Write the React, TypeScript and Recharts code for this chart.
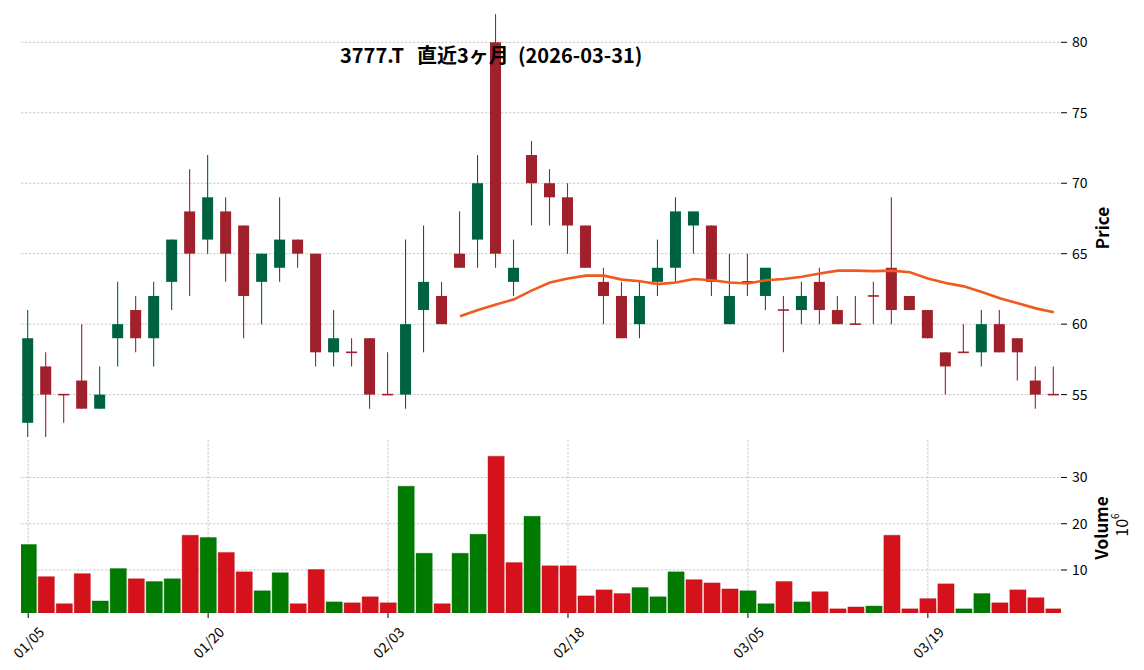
import React from 'react';
import { ComposedChart, Bar, Line, XAxis, YAxis, CartesianGrid, Cell } from 'recharts';

// ---- data ----
const dates = [
  '01/05', '01/06', '01/07', '01/08', '01/09', '01/13', '01/14', '01/15', '01/16', '01/19',
  '01/20', '01/21', '01/22', '01/23', '01/26', '01/27', '01/28', '01/29', '01/30', '02/02',
  '02/03', '02/04', '02/05', '02/06', '02/09', '02/10', '02/12', '02/13', '02/16', '02/17',
  '02/18', '02/19', '02/20', '02/24', '02/25', '02/26', '02/27', '03/02', '03/03', '03/04',
  '03/05', '03/06', '03/09', '03/10', '03/11', '03/12', '03/13', '03/16', '03/17', '03/18',
  '03/19', '03/23', '03/24', '03/25', '03/26', '03/27', '03/30', '03/31',
];
const opens = [
  53, 57, 55, 56, 54, 59, 61, 59, 63, 68, 66, 68, 67, 63, 64, 66, 65, 58, 58, 59,
  55, 55, 61, 62, 65, 66, 80, 63, 72, 70, 69, 67, 63, 62, 60, 63, 64, 67, 67, 60,
  63, 62, 61, 61, 63, 61, 60, 62, 64, 62, 61, 58, 58, 58, 60, 59, 56, 55,
];
const highs = [
  61, 58, 55, 60, 57, 63, 62, 63, 66, 71, 72, 69, 67, 65, 69, 66, 65, 61, 59, 59,
  58, 66, 67, 63, 68, 72, 82, 66, 73, 71, 70, 67, 64, 63, 63, 66, 69, 68, 67, 65,
  65, 64, 62, 63, 64, 62, 62, 63, 69, 62, 61, 58, 60, 61, 61, 59, 57, 57,
];
const lows = [
  52, 52, 53, 54, 54, 57, 58, 57, 61, 62, 65, 63, 59, 60, 63, 64, 57, 57, 57, 54,
  55, 54, 58, 60, 64, 64, 64, 62, 67, 67, 65, 64, 60, 59, 59, 62, 63, 65, 62, 60,
  62, 61, 58, 60, 60, 60, 60, 60, 60, 61, 59, 55, 58, 57, 58, 56, 54, 55,
];
const closes = [
  59, 55, 55, 54, 55, 60, 59, 62, 66, 65, 69, 65, 62, 65, 66, 65, 58, 59, 58, 55,
  55, 60, 63, 60, 64, 70, 65, 64, 70, 69, 67, 64, 62, 59, 62, 64, 68, 68, 63, 62,
  63, 64, 61, 62, 61, 60, 60, 62, 61, 61, 59, 57, 58, 60, 58, 58, 55, 55,
];
// volume in millions of shares
const volumes = [
  15.5, 8.55, 2.7, 9.2, 3.3, 10.3, 8.1, 7.5, 8.1, 17.5,
  17.0, 13.8, 9.6, 5.5, 9.4, 2.7, 10.1, 3.1, 2.9, 4.2,
  2.9, 28.1, 13.6, 2.7, 13.6, 17.7, 34.6, 11.6, 21.6, 10.9,
  10.9, 4.4, 5.7, 4.9, 6.2, 4.2, 9.6, 7.9, 7.2, 5.9,
  5.5, 2.7, 7.5, 3.1, 5.3, 1.6, 2.0, 2.2, 17.5, 1.6,
  3.8, 7.0, 1.6, 4.9, 2.9, 5.7, 4.0, 1.6,
];
// 25-day moving average line as drawn
const ma25: (number | null)[] = [
  null, null, null, null, null, null, null, null, null, null,
  null, null, null, null, null, null, null, null, null, null,
  null, null, null, null, 60.56, 61.0, 61.4, 61.76, 62.4, 62.96,
  63.24, 63.44, 63.44, 63.16, 63.04, 62.84, 62.96, 63.2, 63.12, 62.96,
  62.88, 63.12, 63.2, 63.36, 63.6, 63.8, 63.8, 63.76, 63.8, 63.68,
  63.24, 62.92, 62.68, 62.28, 61.84, 61.48, 61.12, 60.84,
];
const xTickIdx = [0, 10, 20, 30, 40, 50];
const priceTicks = [55, 60, 65, 70, 75, 80];
const volumeTicks = [10, 20, 30];
const titleParts = ['3777.T', '直近3ヶ月', '(2026-03-31)'];

// ---- styles ----
const FONT = '"Noto Sans CJK JP", "Noto Sans", sans-serif';
const UP = '#006340';
const DOWN = '#a0202c';
const VUP = '#007a00';
const VDOWN = '#d5121b';
const MA_COLOR = '#f05a1e';
const GRID = '#bdbdbd';

const rows = dates.map((d, i) => ({
  i,
  date: d,
  o: opens[i],
  h: highs[i],
  l: lows[i],
  c: closes[i],
  range: [lows[i], highs[i]],
  ma: ma25[i],
  v: volumes[i],
  vUp: i === 0 ? closes[i] > opens[i] : closes[i] > closes[i - 1],
}));

const Candle = (props: any) => {
  const { x, y, width, height, payload } = props;
  if (x == null || y == null || !payload) return null;
  const top = Math.min(y, y + height);
  const hgt = Math.abs(height);
  const { o, c, h, l } = payload;
  const color = c > o ? UP : DOWN;
  const ppu = h - l > 0 ? hgt / (h - l) : 0;
  const yOf = (p: number) => top + (h - p) * ppu;
  const cx = x + width / 2;
  const bTop = yOf(Math.max(o, c));
  const bBot = yOf(Math.min(o, c));
  const doji = bBot - bTop < 1.6;
  const bh = doji ? 1.6 : bBot - bTop;
  return (
    <g>
      <line x1={cx} x2={cx} y1={top} y2={top + hgt} stroke={color} strokeWidth={1.1} />
      <rect x={x} y={doji ? bTop - 0.8 : bTop} width={width} height={bh} fill={color} />
    </g>
  );
};

const XTick = (props: any) => {
  const { x, y, payload } = props;
  const cy = y + 22;
  return (
    <text
      x={x}
      y={cy}
      textAnchor="middle"
      dominantBaseline="central"
      fontFamily={FONT}
      fontSize={14}
      fill="#000"
      transform={`rotate(-45, ${x}, ${cy})`}
    >
      {dates[payload.value]}
    </text>
  );
};

const W = 1144;
const H = 670;

export default function App() {
  return (
    <div style={{ position: 'absolute', left: 0, top: 0, width: W, height: H, background: '#fff', fontFamily: FONT }}>
      <div style={{ position: 'absolute', left: 0, top: 0 }}>
        <ComposedChart width={W} height={H} data={rows} margin={{ top: 11, right: 23, left: 21, bottom: 230 }}>
          <CartesianGrid stroke={GRID} strokeDasharray="2.5 1.5" strokeWidth={0.8} syncWithTicks />
          <XAxis
            dataKey="i"
            type="number"
            domain={[-0.4, 57.4]}
            ticks={xTickIdx}
            allowDataOverflow
            tick={false}
            tickLine={false}
            axisLine={false}
            height={0}
          />
          <YAxis
            orientation="right"
            domain={[51.78, 82.22]}
            ticks={priceTicks}
            allowDataOverflow
            width={60}
            axisLine={false}
            tickLine={{ stroke: '#000' }}
            tickSize={6}
            tickMargin={5}
            tick={{ fontSize: 14, fill: '#000', fontFamily: FONT, textAnchor: 'start' }}
          />
          <Bar dataKey="range" barSize={11} shape={Candle} isAnimationActive={false} />
          <Line
            dataKey="ma"
            stroke={MA_COLOR}
            strokeWidth={2.6}
            dot={false}
            activeDot={false}
            type="linear"
            isAnimationActive={false}
          />
        </ComposedChart>
      </div>
      <div style={{ position: 'absolute', left: 0, top: 0 }}>
        <ComposedChart width={W} height={H} data={rows} margin={{ top: 440, right: 23, left: 21, bottom: 27 }}>
          <CartesianGrid stroke={GRID} strokeDasharray="2.5 1.5" strokeWidth={0.8} syncWithTicks />
          <XAxis
            dataKey="i"
            type="number"
            domain={[-0.4, 57.4]}
            ticks={xTickIdx}
            allowDataOverflow
            height={30}
            axisLine={false}
            tickLine={{ stroke: '#000' }}
            tickSize={5}
            tickMargin={2}
            tick={<XTick />}
          />
          <YAxis
            orientation="right"
            domain={[0.7, 38.1]}
            ticks={volumeTicks}
            allowDataOverflow
            width={60}
            axisLine={false}
            tickLine={{ stroke: '#000' }}
            tickSize={6}
            tickMargin={5}
            tick={{ fontSize: 14, fill: '#000', fontFamily: FONT, textAnchor: 'start' }}
          />
          <Bar dataKey="v" barSize={18} isAnimationActive={false}>
            {rows.map((r) => (
              <Cell key={r.i} fill={r.vUp ? VUP : VDOWN} stroke={r.vUp ? '#006a00' : '#b80f18'} strokeWidth={0.4} />
            ))}
          </Bar>
        </ComposedChart>
      </div>
      <svg width={W} height={H} style={{ position: 'absolute', left: 0, top: 0, pointerEvents: 'none' }}>
        <text y={63} fontFamily={FONT} fontWeight="bold" fontSize={20} fill="#000">
          <tspan x={340}>{titleParts[0] + ' '}</tspan>
          <tspan x={417}>{titleParts[1] + ' '}</tspan>
          <tspan x={518}>{titleParts[2]}</tspan>
        </text>
        <text
          x={1101}
          y={228}
          textAnchor="middle"
          dominantBaseline="central"
          fontFamily={FONT}
          fontWeight="bold"
          fontSize={17}
          fill="#000"
          transform="rotate(-90, 1101, 228)"
        >
          Price
        </text>
        <text
          x={1100}
          y={528}
          textAnchor="middle"
          dominantBaseline="central"
          fontFamily={FONT}
          fontWeight="bold"
          fontSize={17}
          fill="#000"
          transform="rotate(-90, 1100, 528)"
        >
          Volume
        </text>
        <text
          x={1121}
          y={525}
          textAnchor="middle"
          dominantBaseline="central"
          fontFamily={FONT}
          fontSize={16}
          fill="#000"
          transform="rotate(-90, 1121, 525)"
        >
          10
          <tspan fontSize={10} dy={-7}>6</tspan>
        </text>
      </svg>
    </div>
  );
}
